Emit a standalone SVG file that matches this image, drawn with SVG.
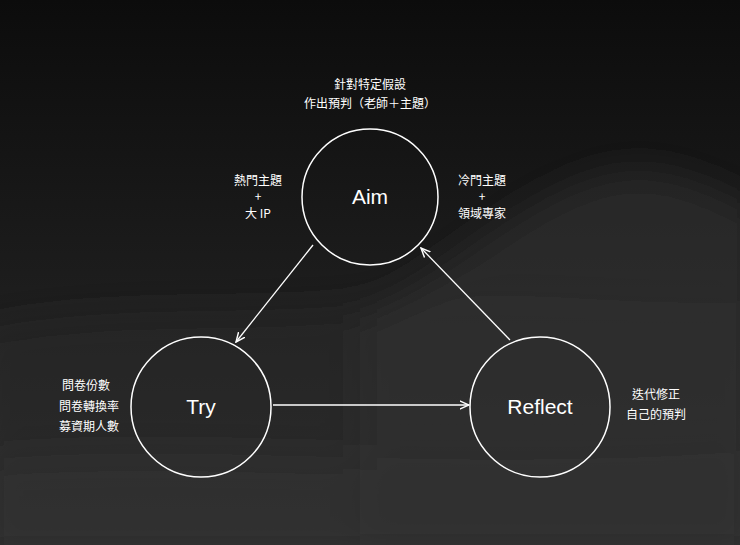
<svg xmlns="http://www.w3.org/2000/svg" width="740" height="545" viewBox="0 0 740 545">
<defs>
<linearGradient id="bg" x1="0" y1="0" x2="0" y2="1">
<stop offset="0" stop-color="#0c0c0c"/><stop offset="0.5" stop-color="#1c1c1c"/><stop offset="1" stop-color="#2c2c2c"/>
</linearGradient>
<filter id="blur" x="-20%" y="-20%" width="140%" height="140%"><feGaussianBlur stdDeviation="18"/></filter>
<marker id="ah" viewBox="0 0 10 10" refX="9" refY="5" markerWidth="8" markerHeight="8" orient="auto"><path d="M0,1 L9,5 L0,9" fill="none" stroke="#fff" stroke-width="1.4"/></marker>
</defs>
<style>
.n{fill:none;stroke:#fff;stroke-width:1.5}
.c{stroke:#fff;stroke-width:1.3;fill:none;marker-end:url(#ah)}
.t{fill:#fff;font-family:"Noto Sans CJK TC","Noto Sans",sans-serif;font-size:12px;text-anchor:middle}
.l{fill:#fff;font-family:"Liberation Sans",Arial,sans-serif;font-size:21px;text-anchor:middle}
</style>
<rect width="740" height="545" fill="url(#bg)"/>
<g filter="url(#blur)">
<path d="M360,320 C460,260 520,200 600,175 C660,160 700,180 760,210 L760,560 L360,560 Z" fill="#333" opacity="0.6"/>
<path d="M-20,330 C120,300 260,320 400,300 C520,285 640,310 760,300 L760,560 L-20,560 Z" fill="#2c2c2c" opacity="0.5"/>
<path d="M-20,460 C200,440 450,475 760,450 L760,560 L-20,560 Z" fill="#333" opacity="0.5"/>
</g>
<g id="connectors">
<line class="c" x1="313" y1="245" x2="236" y2="342"/>
<line class="c" x1="273" y1="405" x2="469" y2="405"/>
<line class="c" x1="510" y1="340" x2="421" y2="248"/>
</g>
<g id="aim"><circle class="n" cx="370" cy="197" r="68"/><text class="l" x="370" y="204">Aim</text></g>
<g id="try"><circle class="n" cx="201" cy="407" r="70"/><text class="l" x="201" y="414">Try</text></g>
<g id="reflect"><circle class="n" cx="540" cy="407" r="70"/><text class="l" x="540" y="414">Reflect</text></g>
<g id="labels">
<text class="t" x="370" y="89">針對特定假設</text>
<text class="t" x="370" y="108">作出預判（老師＋主題）</text>
<text class="t" x="258" y="185">熱門主題</text>
<text class="t" x="258" y="201">+</text>
<text class="t" x="258" y="218">大 IP</text>
<text class="t" x="482" y="185">冷門主題</text>
<text class="t" x="482" y="201">+</text>
<text class="t" x="482" y="218">領域專家</text>
<text class="t" x="86" y="390">問卷份數</text>
<text class="t" x="89" y="411">問卷轉換率</text>
<text class="t" x="89" y="431">募資期人數</text>
<text class="t" x="656" y="399">迭代修正</text>
<text class="t" x="656" y="419">自己的預判</text>
</g>
</svg>
